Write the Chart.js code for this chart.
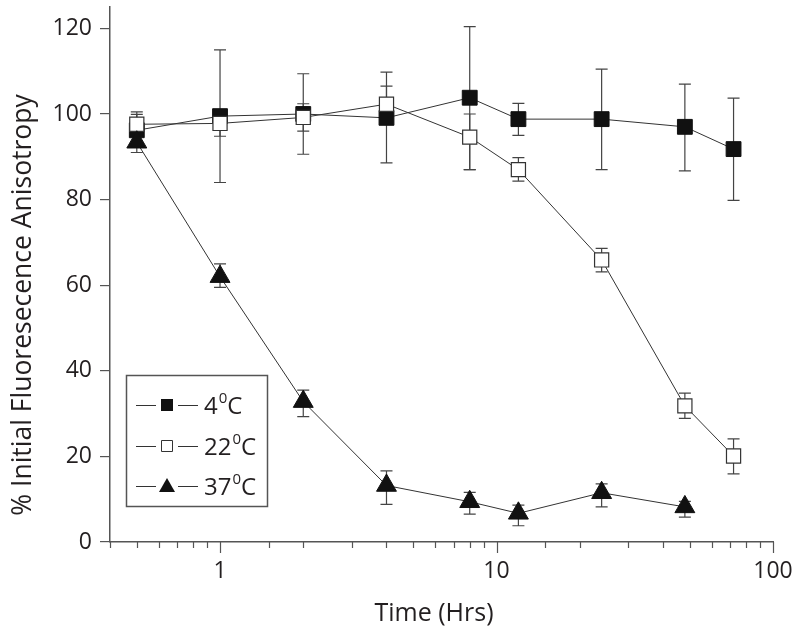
<!DOCTYPE html>
<html>
<head>
<meta charset="utf-8">
<script src="https://cdn.jsdelivr.net/npm/chart.js@4/dist/chart.umd.min.js"></script>
<style>
  html, body { margin: 0; padding: 0; background: #fff; }
  #wrap { width: 800px; height: 631px; }
</style>
</head>
<body>
<div id="wrap"><canvas id="lienzo" width="800" height="631"></canvas></div>
<script>
"use strict";

// tiempos (horas)
const times = [0.5, 1, 2, 4, 8, 12, 24, 48, 72];
const tempLabels = ["4", "22", "37"];

// 4 C
const val4 = [96.2, 99.5, 100.0, 99.1, 103.8, 98.8, 98.8, 97.0, 91.8];
const hi4 = [100.5, 115.0, 109.4, 109.8, 120.4, 102.5, 110.5, 107.0, 103.7];
const lo4 = [93.0, 84.0, 90.6, 88.6, 87.0, 95.0, 87.0, 86.7, 79.8];

// 22 C
const val22 = [97.6, 97.8, 99.2, 102.3, 94.6, 87.0, 65.9, 31.8, 20.1];
const hi22 = [99.9, 100.5, 102.4, 106.5, 100.0, 89.8, 68.6, 34.8, 24.1];
const lo22 = [95.0, 94.8, 96.0, 98.0, 87.0, 84.3, 63.1, 28.9, 15.9];

// 37 C (sin dato a 72 h)
const val37 = [93.4, 62.0, 32.8, 13.2, 9.4, 6.7, 11.5, 8.2];
const hi37 = [96.0, 65.0, 35.5, 16.6, 11.6, 8.6, 13.6, 9.5];
const lo37 = [91.0, 59.5, 29.3, 8.8, 6.5, 3.8, 8.2, 5.8];

const yTicks = [0, 20, 40, 60, 80, 100, 120];
const xTickLabels = [1, 10, 100];

const xTitle = "Time (Hrs)";
const yTitle = "% Initial Fluoresecence Anisotropy";

const FONT = "'Open Sans', 'Noto Sans', sans-serif";
const INK = "#231f20";
const AXIS = "#555";

const toPoints = (vals) => vals.map((v, i) => ({ x: times[i], y: v }));

const errores = [
  { hi: hi4, lo: lo4 },
  { hi: hi22, lo: lo22 },
  { hi: hi37, lo: lo37 },
];

const isDecade = (v) => Math.abs(Math.log10(v) - Math.round(Math.log10(v))) < 1e-6;

/* ── barras de error, debajo de los marcadores ── */
const errorBars = {
  id: "errorBars",
  beforeDatasetsDraw(chart) {
    const { ctx, scales } = chart;
    ctx.save();
    ctx.strokeStyle = "#444";
    ctx.lineWidth = 1.2;
    errores.forEach((e) => {
      e.hi.forEach((h, j) => {
        const x = scales.x.getPixelForValue(times[j]);
        const yh = scales.y.getPixelForValue(h);
        const yl = scales.y.getPixelForValue(e.lo[j]);
        ctx.beginPath();
        ctx.moveTo(x, yh);
        ctx.lineTo(x, yl);
        ctx.moveTo(x - 6, yh);
        ctx.lineTo(x + 6, yh);
        ctx.moveTo(x - 6, yl);
        ctx.lineTo(x + 6, yl);
        ctx.stroke();
      });
    });
    ctx.restore();
  },
};

/* ── marcas del eje x logaritmico y titulos ── */
const ejes = {
  id: "ejes",
  afterDraw(chart) {
    const { ctx, scales } = chart;
    const y0 = scales.x.top;
    ctx.save();
    ctx.strokeStyle = AXIS;
    ctx.lineWidth = 1.2;
    scales.x.ticks.forEach((t) => {
      const x = Math.round(scales.x.getPixelForValue(t.value)) + 0.5;
      const len = isDecade(t.value) ? 11 : 6;
      ctx.beginPath();
      ctx.moveTo(x, y0);
      ctx.lineTo(x, y0 + len);
      ctx.stroke();
    });

    ctx.fillStyle = INK;
    ctx.textAlign = "center";
    ctx.textBaseline = "alphabetic";
    ctx.font = "25px " + FONT;
    ctx.fillText(xTitle, 434, 621);

    ctx.translate(31, 305);
    ctx.rotate(-Math.PI / 2);
    ctx.font = "26.5px " + FONT;
    ctx.fillText(yTitle, 0, 0);
    ctx.restore();
  },
};

/* ── leyenda dentro del area ── */
function drawMarker(ctx, style, x, y) {
  ctx.beginPath();
  if (style === "triangle") {
    ctx.moveTo(x, y - 8);
    ctx.lineTo(x + 8, y + 6);
    ctx.lineTo(x - 8, y + 6);
    ctx.closePath();
    ctx.fillStyle = "#111";
    ctx.fill();
  } else if (style === "open") {
    ctx.rect(x - 5.5, y - 5.5, 11, 11);
    ctx.fillStyle = "#fff";
    ctx.fill();
    ctx.strokeStyle = "#333";
    ctx.lineWidth = 1;
    ctx.stroke();
  } else {
    ctx.rect(x - 6, y - 6, 12, 12);
    ctx.fillStyle = "#111";
    ctx.fill();
  }
}

const legendBox = {
  id: "legendBox",
  afterDraw(chart) {
    const { ctx } = chart;
    const styles = ["filled", "open", "triangle"];
    const rows = [405, 446, 486];
    ctx.save();
    ctx.fillStyle = "#fff";
    ctx.fillRect(126.5, 375.5, 141, 131);
    ctx.strokeStyle = AXIS;
    ctx.lineWidth = 1.5;
    ctx.strokeRect(126.5, 375.5, 141, 131);
    tempLabels.forEach((t, i) => {
      const cy = rows[i];
      ctx.strokeStyle = "#333";
      ctx.lineWidth = 1;
      ctx.beginPath();
      ctx.moveTo(136, cy + 0.5);
      ctx.lineTo(156, cy + 0.5);
      ctx.moveTo(178, cy + 0.5);
      ctx.lineTo(198, cy + 0.5);
      ctx.stroke();
      drawMarker(ctx, styles[i], 167, cy);
      ctx.fillStyle = INK;
      ctx.textBaseline = "alphabetic";
      ctx.textAlign = "left";
      let x = 204;
      ctx.font = "24px " + FONT;
      ctx.fillText(t, x, cy + 9);
      x += ctx.measureText(t).width + 1;
      ctx.font = "15px " + FONT;
      ctx.fillText("0", x, cy - 2);
      x += ctx.measureText("0").width;
      ctx.font = "24px " + FONT;
      ctx.fillText("C", x, cy + 9);
    });
    ctx.restore();
  },
};

const lienzo = document.getElementById("lienzo").getContext("2d");

const grafico = new Chart(lienzo, {
  type: "line",
  data: {
    datasets: [
      {
        label: tempLabels[0] + "\u2070C",
        data: toPoints(val4),
        order: 3,
        borderColor: "#333",
        borderWidth: 1,
        pointStyle: "rect",
        pointRadius: 10.5,
        pointBackgroundColor: "#111",
        pointBorderColor: "#111",
        pointBorderWidth: 1,
      },
      {
        label: tempLabels[1] + "\u2070C",
        data: toPoints(val22),
        order: 2,
        borderColor: "#333",
        borderWidth: 1,
        pointStyle: "rect",
        pointRadius: 10,
        pointBackgroundColor: "#fff",
        pointBorderColor: "#333",
        pointBorderWidth: 1.2,
      },
      {
        label: tempLabels[2] + "\u2070C",
        data: toPoints(val37),
        order: 1,
        borderColor: "#333",
        borderWidth: 1,
        pointStyle: "triangle",
        pointRadius: 11.5,
        pointBackgroundColor: "#111",
        pointBorderColor: "#111",
        pointBorderWidth: 1,
      },
    ],
  },
  options: {
    responsive: false,
    animation: false,
    layout: { autoPadding: false, padding: { top: 7, right: 27, left: 0, bottom: 0 } },
    plugins: {
      legend: { display: false },
      tooltip: { enabled: false },
    },
    scales: {
      x: {
        type: "logarithmic",
        min: 0.4,
        max: 100,
        afterFit(scale) {
          scale.height = 89;
        },
        border: { display: true, color: AXIS, width: 1.5 },
        grid: { drawOnChartArea: false, color: "rgba(0,0,0,0)", tickLength: 11 },
        ticks: {
          autoSkip: false,
          maxRotation: 0,
          padding: 5,
          color: INK,
          font: { family: FONT, size: 23 },
          callback: (v) => (xTickLabels.some((t) => Math.abs(t - v) < 1e-9) ? String(v) : ""),
        },
      },
      y: {
        min: 0,
        max: 125,
        afterFit(scale) {
          scale.width = 110;
          scale.paddingTop = 0;
          scale.paddingBottom = 0;
        },
        afterBuildTicks(scale) {
          scale.ticks = yTicks.map((v) => ({ value: v }));
        },
        border: { display: true, color: AXIS, width: 1.5 },
        grid: { drawOnChartArea: false, color: AXIS, tickLength: 10, lineWidth: 1.2 },
        ticks: {
          padding: 8,
          color: INK,
          font: { family: FONT, size: 23 },
        },
      },
    },
  },
  plugins: [errorBars, ejes, legendBox],
});
</script>
</body>
</html>
